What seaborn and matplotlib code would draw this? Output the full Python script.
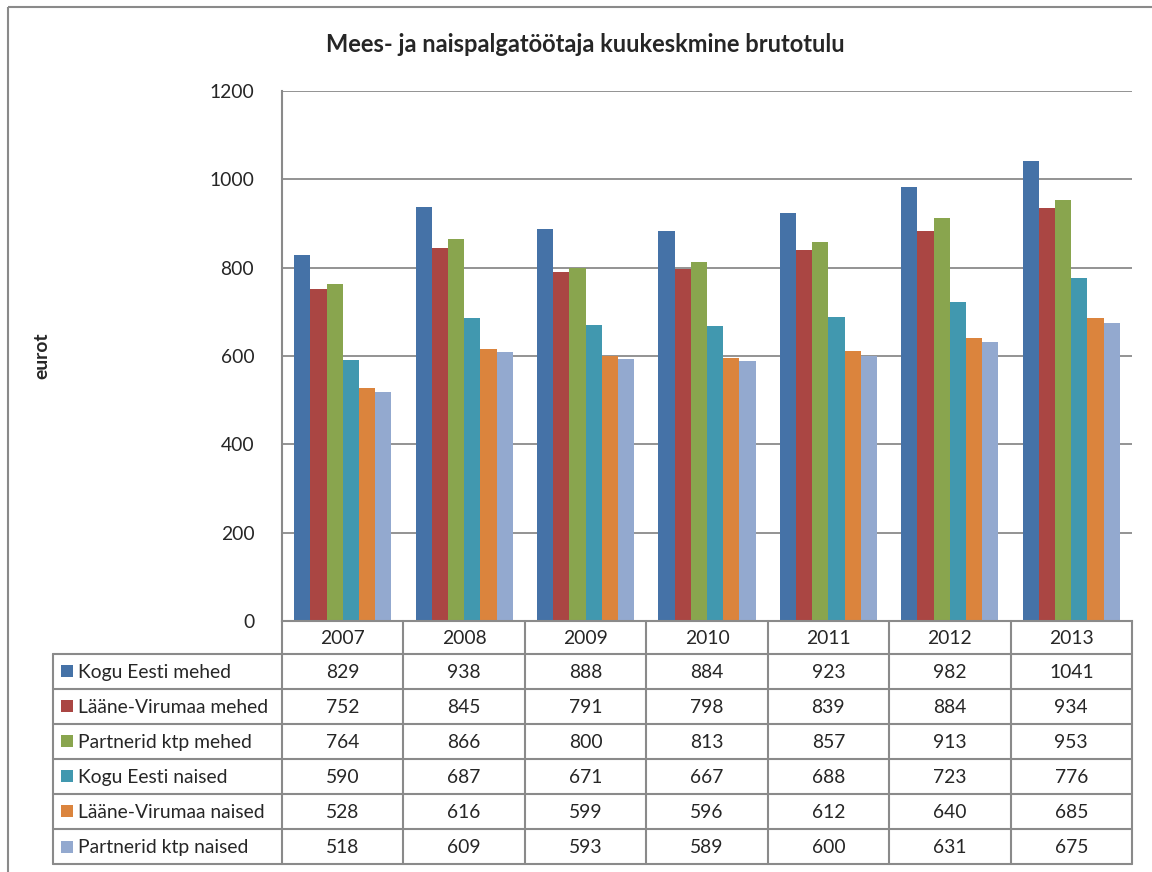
import matplotlib
matplotlib.use("Agg")
import matplotlib.pyplot as plt
from matplotlib.patches import Rectangle
import seaborn as sb
import numpy as np
import pandas as pd

# data
years = ['2007', '2008', '2009', '2010', '2011', '2012', '2013']
series = ['Kogu Eesti mehed', 'Lääne-Virumaa mehed', 'Partnerid ktp mehed',
          'Kogu Eesti naised', 'Lääne-Virumaa naised', 'Partnerid ktp naised']
kogu_mehed = [829, 938, 888, 884, 923, 982, 1041]
lv_mehed = [752, 845, 791, 798, 839, 884, 934]
partner_mehed = [764, 866, 800, 813, 857, 913, 953]
kogu_naised = [590, 687, 671, 667, 688, 723, 776]
lv_naised = [528, 616, 599, 596, 612, 640, 685]
partner_naised = [518, 609, 593, 589, 600, 631, 675]
values = [kogu_mehed, lv_mehed, partner_mehed, kogu_naised, lv_naised, partner_naised]
colors = ['#4572A7', '#AA4643', '#89A54E', '#4198AF', '#DB843D', '#93A9CF']

df = pd.DataFrame([(y, s, v[i]) for s, v in zip(series, values) for i, y in enumerate(years)],
                  columns=['year', 'series', 'value'])

W, H = 1152, 872
FONT = 'Lato'
FS = 13.9
grey = '#8a8a8a'

sb.set_style('white')
plt.rcParams['font.family'] = [FONT, 'DejaVu Sans']

fig = plt.figure(figsize=(W / 100, H / 100), dpi=100)

# plot area in pixels
left, right, top, bottom = 282, 1132, 91, 621
ax = fig.add_axes([left / W, 1 - bottom / H, (right - left) / W, (bottom - top) / H])
sb.barplot(data=df, x='year', y='value', hue='series', hue_order=series, order=years,
           palette=colors, saturation=1, width=0.8, linewidth=0, legend=False, ax=ax)
ax.set_ylim(0, 1200)
ax.set_xlim(-0.5, len(years) - 0.5)
ax.set_yticks(np.arange(0, 1201, 200))
ax.set_yticklabels([str(t) for t in range(0, 1201, 200)], fontsize=FS)
ax.set_xticks([])
ax.set_xlabel('')
ax.set_ylabel('')
ax.grid(axis='y', color=grey, linewidth=1.3)
ax.set_axisbelow(True)
for sp in ['top', 'right']:
    ax.spines[sp].set_visible(False)
for sp in ['left', 'bottom']:
    ax.spines[sp].set_color(grey)
    ax.spines[sp].set_linewidth(1.5)
ax.tick_params(axis='y', direction='out', length=6, width=1.3, color=grey, pad=14)

# overlay in pixel coordinates for title, label, table, border
ov = fig.add_axes([0, 0, 1, 1], facecolor='none')
ov.set_xlim(0, W)
ov.set_ylim(H, 0)
ov.axis('off')

ov.add_patch(Rectangle((8, 7), W + 20, H + 20, fill=False, edgecolor=grey, linewidth=1.5))
ov.text(585, 45, 'Mees- ja naispalgatöötaja kuukeskmine brutotulu', ha='center', va='center',
        fontsize=17, fontweight='bold')
ov.text(42, (top + bottom) / 2, 'eurot', rotation=90, ha='center', va='center',
        fontsize=FS, fontweight='bold')

# data table below the chart
fig.canvas.draw()
bounds = [ax.transData.transform((k - 0.5, 0))[0] for k in range(len(years) + 1)]
centers = [(bounds[k] + bounds[k + 1]) / 2 for k in range(len(years))]
tab_left = 53
year_bot = 653.5
row_h = 35.1
rows_bot = year_bot + row_h * len(series)

for b in bounds:
    ov.plot([b, b], [bottom, rows_bot], color=grey, lw=1.5)
ov.plot([tab_left, tab_left], [year_bot, rows_bot], color=grey, lw=1.5)
for r in range(len(series) + 1):
    yy = year_bot + r * row_h
    ov.plot([tab_left, bounds[-1]], [yy, yy], color=grey, lw=1.5)

for c, y in zip(centers, years):
    ov.text(c, (bottom + year_bot) / 2 + 1, y, ha='center', va='center', fontsize=FS)

for r, (s, v, col) in enumerate(zip(series, values, colors)):
    yc = year_bot + (r + 0.5) * row_h
    ov.add_patch(Rectangle((61, yc - 6), 12, 12, facecolor=col, edgecolor='none'))
    ov.text(78, yc + 1, s, ha='left', va='center', fontsize=FS)
    for c, val in zip(centers, v):
        ov.text(c, yc + 1, str(val), ha='center', va='center', fontsize=FS)

fig.savefig('out.png', dpi=100)
